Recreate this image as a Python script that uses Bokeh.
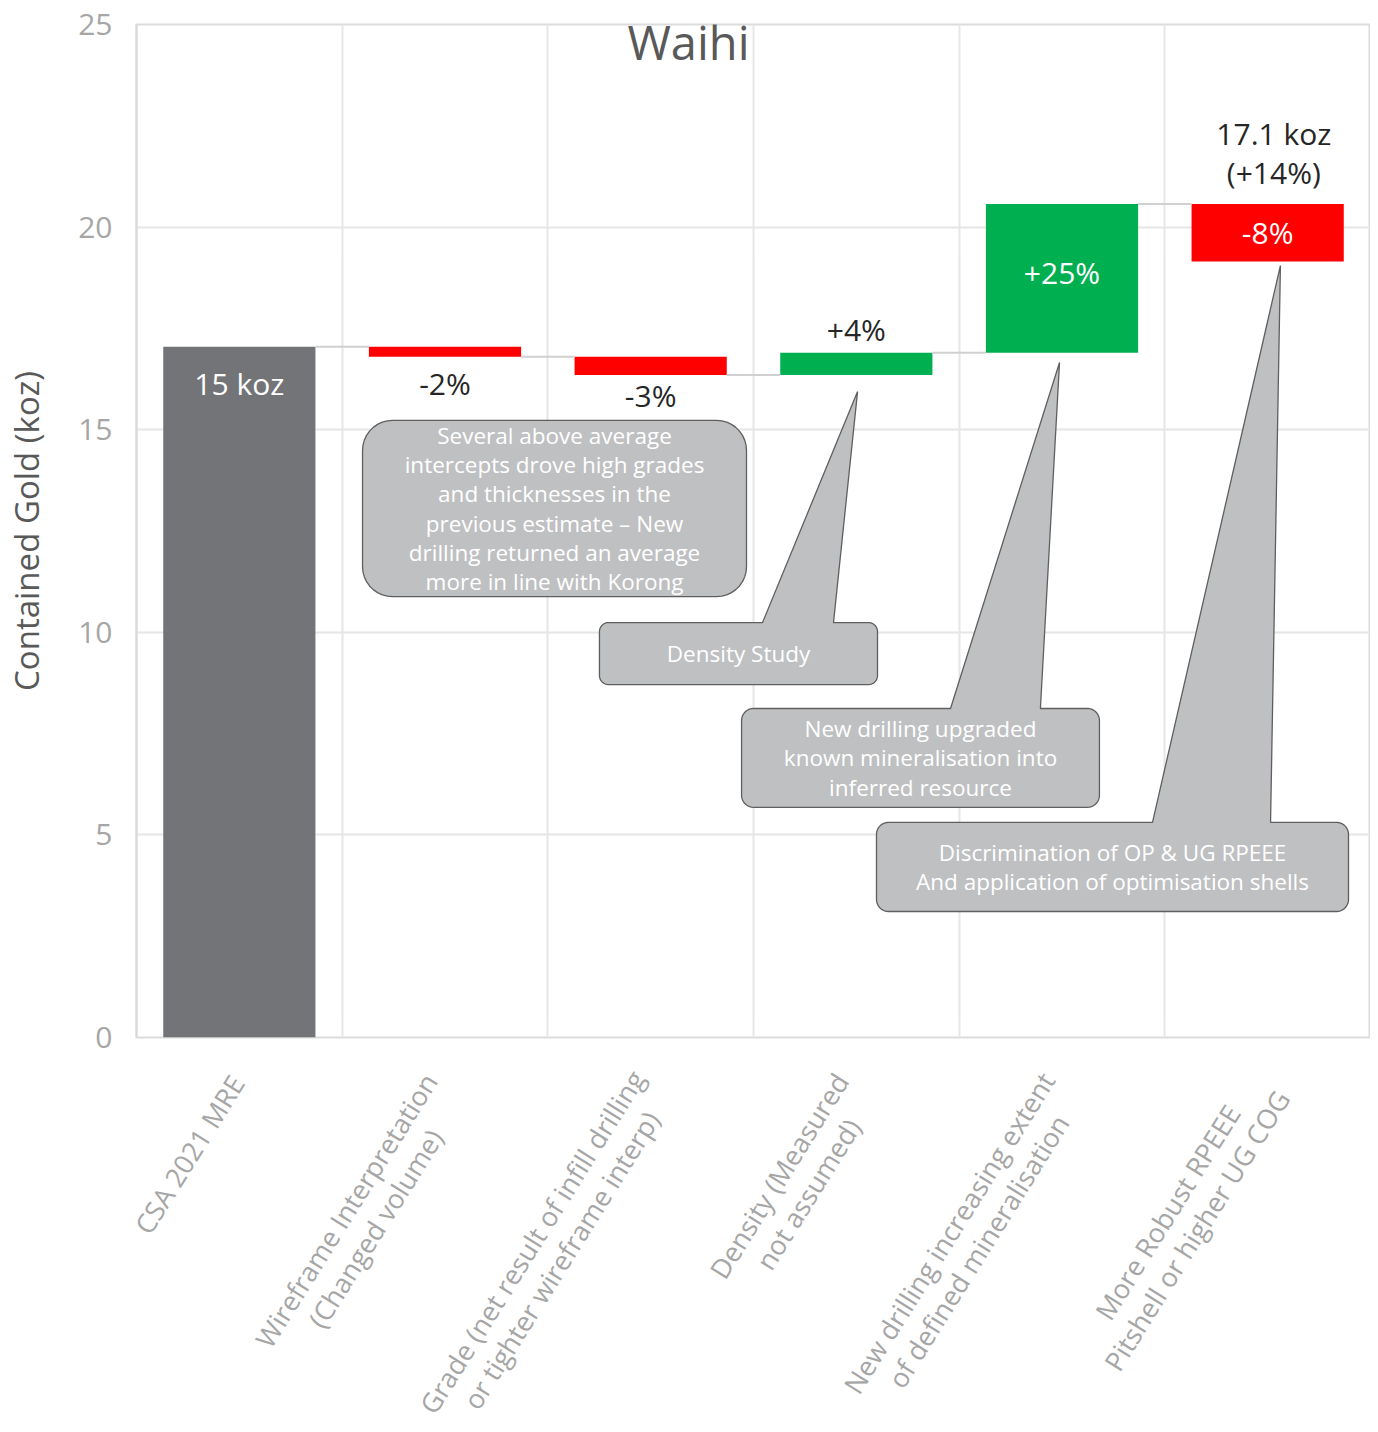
import numpy as np
from bokeh.plotting import figure
from bokeh.layouts import column
from bokeh.models import FixedTicker, ColumnDataSource, Label, Range1d
from bokeh.core.properties import value
from bokeh.embed import file_html
from bokeh.resources import INLINE

# ---------------- data ----------------
categories = [
    "CSA 2021 MRE",
    "Wireframe Interpretation\n(Changed volume)",
    "Grade (net result of infill drilling\nor tighter wireframe interp)",
    "Density (Measured\nnot assumed)",
    "New drilling increasing extent\nof defined mineralisation",
    "More Robust RPEEE\nPitshell or higher UG COG",
]
start_value = 17.05
deltas = [-0.25, -0.45, 0.55, 3.67, -1.42]
bar_labels = ["15 koz", "-2%", "-3%", "+4%", "+25%", "-8%"]
final_label = "17.1 koz\n(+14%)"
y_ticks = [0, 5, 10, 15, 20, 25]
title_text = "Waihi"
y_title = "Contained Gold (koz)"

callout_texts = [
    "Several above average\nintercepts drove high grades\nand thicknesses in the\nprevious estimate \u2013 New\ndrilling returned an average\nmore in line with Korong",
    "Density Study",
    "New drilling upgraded\nknown mineralisation into\ninferred resource",
    "Discrimination of OP & UG RPEEE\nAnd application of optimisation shells",
]
# box: x0, x1 (category units), y_top, y_bottom (koz)
callout_x0 = [1.099, 2.251, 2.942, 3.598]
callout_x1 = [2.966, 3.603, 4.682, 5.893]
callout_ytop = [15.23, 10.24, 8.12, 5.31]
callout_ybot = [10.88, 8.71, 5.68, 3.11]
callout_radius_px = [30, 9, 12, 12]
# pointer: base left x, base right x, tip x, tip y (None = no pointer)
pointer_b0 = [None, 3.044, 3.958, 4.940]
pointer_b1 = [None, 3.389, 4.395, 5.514]
pointer_tx = [None, 3.506, 4.488, 5.562]
pointer_ty = [None, 15.94, 16.66, 19.05]

# ---------------- layout constants ----------------
W = 1370
FL, FT, FR, FB = 136, 24, 0, 1037   # frame edges in px
GAP = 22                             # room under the frame for the "0" tick label
H1 = FB + GAP                        # main chart height
H2 = 1432 - H1                       # category-label strip height
frame_w = W - FL - FR
frame_h = FB - FT
NX = len(categories)
px_x = frame_w / NX        # px per category unit
px_y = frame_h / 25.0      # px per koz

GREY = "#737478"
RED = "#ff0000"
GREEN = "#00b050"
FONT = "Open Sans"

# ---------------- waterfall geometry ----------------
levels = [start_value]
for d in deltas:
    levels.append(levels[-1] + d)
bottoms = [0.0]
tops = [start_value]
colors = [GREY]
for i, d in enumerate(deltas):
    a, b = levels[i], levels[i + 1]
    bottoms.append(min(a, b))
    tops.append(max(a, b))
    colors.append(GREEN if d > 0 else RED)
xc = [i + 0.5 for i in range(NX)]
bar_w = 0.74

xr = Range1d(0, NX)
p = figure(width=W, height=H1, x_range=xr, y_range=(0, 25),
           output_backend="svg", toolbar_location=None,
           min_border_left=FL, min_border_top=FT, min_border_right=FR,
           min_border_bottom=GAP)
p.background_fill_color = "white"
p.border_fill_color = "white"
p.outline_line_color = "#dcdcdc"
p.outline_line_width = 2

# grids
p.xgrid.ticker = FixedTicker(ticks=list(range(1, NX + 1)))
p.xgrid.grid_line_color = "#e6e6e6"
p.xgrid.grid_line_width = 2
p.ygrid.ticker = FixedTicker(ticks=y_ticks)
p.ygrid.grid_line_color = "#e6e6e6"
p.ygrid.grid_line_width = 2

# axes
p.xaxis.visible = False
p.yaxis.ticker = FixedTicker(ticks=y_ticks)
p.yaxis.major_label_text_font = FONT
p.yaxis.major_label_text_font_size = "30px"
p.yaxis.major_label_text_color = "#a6a6a6"
p.yaxis.major_label_standoff = 24
p.yaxis.axis_label = y_title
p.yaxis.axis_label_text_font = FONT
p.yaxis.axis_label_text_font_size = "33px"
p.yaxis.axis_label_text_font_style = "normal"
p.yaxis.axis_label_text_color = "#595959"
p.yaxis.axis_label_standoff = 26
p.yaxis.axis_line_color = "#d9d9d9"
p.yaxis.axis_line_width = 2
p.yaxis.major_tick_line_color = None
p.yaxis.minor_tick_line_color = None
p.yaxis.major_tick_out = 0
p.yaxis.major_tick_in = 0

# bars
src = ColumnDataSource(dict(x=xc, bottom=bottoms, top=tops, color=colors))
p.vbar(x="x", bottom="bottom", top="top", width=bar_w, fill_color="color",
       line_color=None, source=src)

# connectors
cx0 = [xc[i] + bar_w / 2 for i in range(NX - 1)]
cx1 = [xc[i + 1] - bar_w / 2 for i in range(NX - 1)]
cy = levels[:NX - 1]
p.segment(x0=cx0, y0=cy, x1=cx1, y1=cy, line_color="#d0d0d0", line_width=2)

# bar labels (anchor: which part of bar, pixel offset upward)
anchor = ["top", "bottom", "bottom", "top", "mid", "mid"]
offset_px = [-37, -27, -21, 23, 6, 0]
label_color = ["white", "#262626", "#262626", "#262626", "white", "white"]
ly = []
for i in range(NX):
    base = {"top": tops[i], "bottom": bottoms[i], "mid": (tops[i] + bottoms[i]) / 2}[anchor[i]]
    ly.append(base + offset_px[i] / px_y)
p.text(x=xc, y=ly, text=bar_labels, text_color=label_color,
       text_font=value(FONT), text_font_size="30px",
       text_align="center", text_baseline="middle")
p.text(x=[xc[-1] + 0.03], y=[tops[-1] + 51 / px_y], text=[final_label],
       text_color="#262626", text_font=value(FONT), text_font_size="30px",
       text_align="center", text_baseline="middle", text_line_height=0.96)

# title
p.add_layout(Label(x=(688 - FL) / px_x, y=25 - 17 / px_y, text=title_text,
                   text_font=FONT, text_font_size="47px", text_color="#595959",
                   text_align="center", text_baseline="middle"))

# callouts
def callout_poly(x0, x1, yt, yb, r, ptr):
    rx, ry = r / px_x, r / px_y
    xs, ys = [], []
    def arc(cx, cy, a0, a1):
        t = np.linspace(np.deg2rad(a0), np.deg2rad(a1), 10)
        xs.extend(cx + rx * np.cos(t)); ys.extend(cy + ry * np.sin(t))
    arc(x0 + rx, yt - ry, 180, 90)
    if ptr is not None:
        b0, b1, tx, ty = ptr
        xs.extend([b0, tx, b1]); ys.extend([yt, ty, yt])
    arc(x1 - rx, yt - ry, 90, 0)
    arc(x1 - rx, yb + ry, 0, -90)
    arc(x0 + rx, yb + ry, 270, 180)
    return list(xs), list(ys)

pxs, pys = [], []
for i in range(len(callout_texts)):
    ptr = None if pointer_b0[i] is None else (pointer_b0[i], pointer_b1[i], pointer_tx[i], pointer_ty[i])
    a, b = callout_poly(callout_x0[i], callout_x1[i], callout_ytop[i], callout_ybot[i],
                        callout_radius_px[i], ptr)
    pxs.append(a); pys.append(b)
p.patches(xs=pxs, ys=pys, fill_color="#bfc0c2", line_color="#5f5f5f", line_width=1.3)
tx = [(callout_x0[i] + callout_x1[i]) / 2 for i in range(len(callout_texts))]
ty = [(callout_ytop[i] + callout_ybot[i]) / 2 for i in range(len(callout_texts))]
p.text(x=tx, y=ty, text=callout_texts, text_color="white", text_font=value(FONT),
       text_font_size="22.5px", text_align="center", text_baseline="middle",
       text_line_height=0.94)

# ---------------- category label strip (shares x scale) ----------------
# y unit of this strip = pixels below the chart's zero line (negative downward)
p2 = figure(width=W, height=H2, x_range=xr, y_range=(-GAP - H2, -GAP),
            output_backend="svg", toolbar_location=None,
            min_border_left=FL, min_border_right=FR, min_border_top=0,
            min_border_bottom=0)
p2.axis.visible = False
p2.grid.visible = False
p2.outline_line_color = None

EM = {" ": 0.26, "i": 0.24, "j": 0.24, "l": 0.24, "f": 0.31, "t": 0.33, "r": 0.41,
      "I": 0.28, "(": 0.30, ")": 0.30, ".": 0.27, "m": 0.93, "w": 0.78, "s": 0.46,
      "c": 0.48, "z": 0.47, "v": 0.5, "y": 0.5, "M": 0.9, "W": 0.93, "O": 0.78,
      "G": 0.71, "C": 0.63, "S": 0.55, "E": 0.55, "P": 0.6, "R": 0.62}
def text_w(s, size):
    w = 0.0
    for ch in s:
        if ch in EM:
            w += EM[ch]
        elif ch.isdigit():
            w += 0.572
        elif ch.isupper():
            w += 0.66
        else:
            w += 0.57
    return w * size

XL_SIZE = 27
theta = np.deg2rad(58)
lx, lyy = [], []
for i, cat in enumerate(categories):
    lines = cat.split("\n")
    L = max(text_w(s, XL_SIZE) for s in lines)
    end_dx, end_dy = -2, 30 + 10 * len(lines)     # block end-centre below the axis (px)
    lx.append(xc[i] + (end_dx - L / 2 * np.cos(theta)) / px_x)
    lyy.append(-(end_dy + L / 2 * np.sin(theta)))
p2.text(x=lx, y=lyy, text=categories, angle=theta, text_color="#a6a6a6",
        text_font=value(FONT), text_font_size=f"{XL_SIZE}px", text_align="center",
        text_baseline="middle", text_line_height=0.93)

layout = column(p, p2, spacing=0)
open("out.html", "w").write(file_html(layout, INLINE))
